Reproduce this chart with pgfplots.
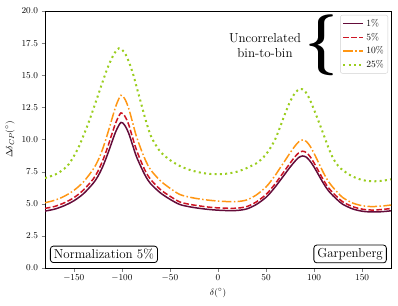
\documentclass[border=0pt]{standalone}
\usepackage{graphicx}
\usepackage{pgfplots}
\pgfplotsset{compat=1.18}
\definecolor{c1}{RGB}{100,12,58}
\definecolor{c2}{RGB}{205,20,35}
\definecolor{c3}{RGB}{255,150,20}
\definecolor{c4}{RGB}{154,205,30}

\pgfplotstableread{
x y
-180 4.43
-170 4.58
-160 4.85
-150 5.23
-140 5.78
-130 6.58
-125 7.13
-120 7.88
-115 8.83
-110 9.88
-106 10.68
-101 11.33
-97 11.1
-93 10.5
-89 9.6
-85 8.7
-80 7.85
-75 7.1
-70 6.55
-60 5.85
-50 5.35
-40 4.95
-30 4.77
-20 4.65
-10 4.56
0 4.5
10 4.47
20 4.48
30 4.6
40 4.95
50 5.5
55 5.9
60 6.35
65 6.85
70 7.35
75 7.85
80 8.3
84 8.6
88 8.72
92 8.62
96 8.3
100 7.85
105 7.2
110 6.55
115 6.0
120 5.6
125 5.25
130 4.95
140 4.6
150 4.42
160 4.36
170 4.38
180 4.45
}\tone

\pgfplotstableread{
x y
-180 4.64
-170 4.79
-160 5.07
-150 5.47
-140 6.07
-130 6.91
-125 7.52
-120 8.35
-115 9.36
-110 10.52
-106 11.37
-101 12.07
-97 11.82
-93 11.18
-89 10.18
-85 9.22
-80 8.28
-75 7.46
-70 6.88
-60 6.11
-50 5.59
-40 5.15
-30 4.96
-20 4.84
-10 4.74
0 4.68
10 4.65
20 4.66
30 4.78
40 5.15
50 5.72
55 6.14
60 6.60
65 7.12
70 7.64
75 8.16
80 8.65
84 8.96
88 9.09
92 8.98
96 8.65
100 8.17
105 7.49
110 6.81
115 6.24
120 5.82
125 5.46
130 5.14
140 4.78
150 4.58
160 4.51
170 4.55
180 4.63
}\tfive

\pgfplotstableread{
x y
-180 5.08
-170 5.27
-160 5.58
-150 6.04
-140 6.70
-130 7.67
-125 8.34
-120 9.26
-115 10.42
-110 11.69
-106 12.66
-101 13.44
-97 13.16
-93 12.44
-89 11.36
-85 10.27
-80 9.22
-75 8.31
-70 7.63
-60 6.79
-50 6.21
-40 5.73
-30 5.52
-20 5.38
-10 5.28
0 5.21
10 5.17
20 5.17
30 5.30
40 5.69
50 6.31
55 6.76
60 7.26
65 7.83
70 8.39
75 8.96
80 9.48
84 9.82
88 9.96
92 9.84
96 9.46
100 8.91
105 8.14
110 7.37
115 6.72
120 6.24
125 5.83
130 5.47
140 5.06
150 4.85
160 4.78
170 4.82
180 4.90
}\tten

\pgfplotstableread{
x y
-180 7.0
-170 7.25
-164 7.5
-160 7.72
-155 8.1
-150 8.7
-145 9.4
-140 10.3
-135 11.25
-130 12.3
-125 13.4
-120 14.5
-115 15.55
-110 16.4
-106 16.9
-103 17.1
-100 17.0
-96 16.6
-92 15.9
-88 15.0
-84 13.9
-80 12.8
-75 11.45
-70 10.3
-65 9.6
-60 9.05
-55 8.7
-50 8.4
-40 7.95
-30 7.65
-20 7.45
-10 7.33
0 7.3
10 7.35
20 7.5
30 7.78
40 8.15
45 8.45
50 8.85
55 9.4
60 10.1
65 11.05
70 12.05
75 12.95
80 13.6
85 13.93
90 13.8
95 13.2
100 12.3
105 11.35
110 10.35
115 9.35
120 8.5
125 7.95
130 7.6
135 7.35
140 7.12
150 6.85
160 6.75
170 6.78
180 6.9
}\ttwentyfive

\begin{document}
\begin{tikzpicture}
\begin{axis}[
  name=ax, at={(0,0)}, anchor=south west,
  scale only axis, width=346pt, height=257pt,
  xmin=-180, xmax=180, ymin=0, ymax=20,
  xtick={-150,-100,-50,0,50,100,150},
  ytick={0,2.5,5,7.5,10,12.5,15,17.5,20},
  yticklabel style={/pgf/number format/.cd, fixed, fixed zerofill, precision=1},
  tick label style={font=\fontsize{9}{10}\selectfont},
  tick align=outside, xtick pos=lower, ytick pos=left,
  major tick length=3.5pt,
  axis line style={line width=0.8pt},
  xlabel={$\delta(^\circ)$}, ylabel={$\Delta\delta_{CP}(^\circ)$},
  label style={font=\fontsize{9.5}{11}\selectfont},
  legend style={at={(1,1)}, anchor=north east, xshift=-3pt, yshift=-4pt,
    draw=black!18, rounded corners=2pt, font=\fontsize{9.5}{10}\selectfont,
    row sep=1.2pt, inner xsep=2pt, inner ysep=2pt},
  legend cell align=left,
  legend image code/.code={\draw[#1] (0pt,0pt) -- (20pt,0pt);},
]
\addplot[c1, line width=1.5pt, smooth] table {\tone};
\addlegendentry{1\%}
\addplot[c2, line width=1.5pt, smooth, dash pattern=on 5.5pt off 2.4pt] table {\tfive};
\addlegendentry{5\%}
\addplot[c3, line width=1.5pt, smooth, dash pattern=on 9.6pt off 2.4pt on 1.5pt off 2.4pt] table {\tten};
\addlegendentry{10\%}
\addplot[c4, line width=2pt, smooth, dash pattern=on 2pt off 3.3pt] table {\ttwentyfive};
\addlegendentry{25\%}

\node[draw, rounded corners=3pt, fill=white, line width=0.8pt, anchor=south west,
  inner xsep=3.5pt, inner ysep=3pt, font=\fontsize{13}{14}\selectfont]
  at (axis cs:-174.8,0.39) {Normalization 5\%};
\node[draw, rounded corners=3pt, fill=white, line width=0.8pt, anchor=south east,
  inner xsep=3.5pt, inner ysep=3pt, font=\fontsize{13}{14}\selectfont]
  at (axis cs:175.6,0.37) {Garpenberg};
\node[align=center, font=\fontsize{13}{14.5}\selectfont] at (axis cs:48.9,17.3)
  {Uncorrelated\\bin-to-bin};
\node at (axis cs:107.5,17.35) {\scalebox{5.6}[6.1]{\boldmath$\{$}};
\end{axis}
\pgfresetboundingbox
\path[use as bounding box] (ax.south west) ++(-45pt,-37pt) rectangle ([shift={(7pt,11pt)}]ax.north east);
\end{tikzpicture}
\end{document}
